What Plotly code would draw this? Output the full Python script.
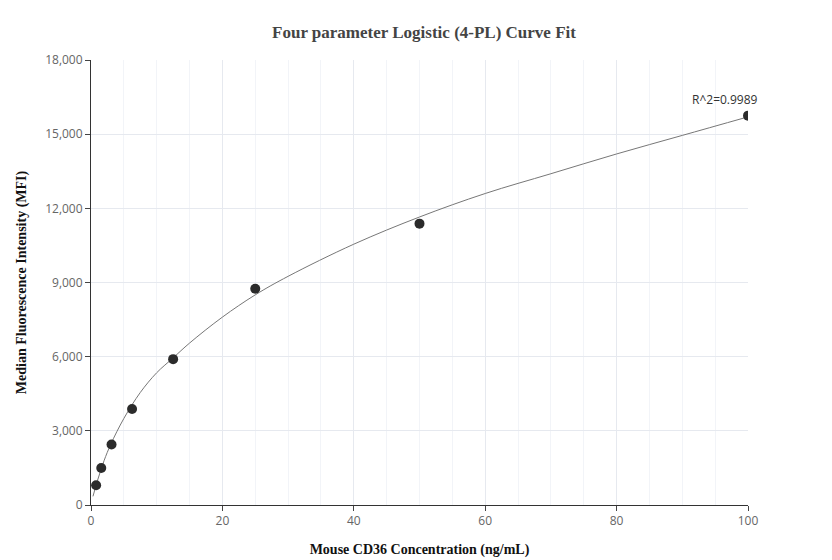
import plotly.graph_objects as go

# measured standards
conc = [0.78, 1.56, 3.125, 6.25, 12.5, 25, 50, 100]
mfi = [800, 1500, 2450, 3880, 5900, 8750, 11380, 15750]

# fitted curve
curve_x = [0.3, 1, 2, 3, 5, 7.5, 10, 12.5, 15, 20, 25, 30, 40, 50, 60, 70, 80, 90, 100]
curve_y = [350, 1000, 1800, 2450, 3500, 4550, 5350, 5950, 6550, 7600, 8500, 9250, 10550, 11650, 12600, 13400, 14200, 14950, 15700]

serif = "Liberation Serif, Times New Roman, serif"

fig = go.Figure()
fig.add_trace(go.Scatter(x=curve_x, y=curve_y, mode="lines", line=dict(color="#777777", width=1, shape="spline"),
                         hoverinfo="skip", showlegend=False))
fig.add_trace(go.Scatter(x=conc, y=mfi, mode="markers", marker=dict(color="#2b2b2b", size=10), showlegend=False))
fig.add_annotation(x=100, y=15750, text="R^2=0.9989", showarrow=False, yshift=16, xanchor="right", xshift=12,
                   font=dict(size=12, color="#333333"))

fig.update_layout(
    width=832, height=560, plot_bgcolor="white", paper_bgcolor="white",
    margin=dict(l=75, r=92, t=52, b=63),
    title=dict(text="<b>Four parameter Logistic (4-PL) Curve Fit</b>", x=0.5, y=0.967,
               font=dict(family=serif, size=17, color="#444444")),
    font=dict(family="Open Sans, sans-serif", size=12, color="#666666"),
)
fig.update_xaxes(range=[0, 100], dtick=20, showline=True, linecolor="#333333", ticks="outside", ticklen=5,
                 gridcolor="#e6e9ef", minor=dict(dtick=5, showgrid=True, gridcolor="#f2f4f8"), zeroline=False,
                 title=dict(text="<b>Mouse CD36 Concentration (ng/mL)</b>", font=dict(family=serif, size=14, color="#111111")))
fig.update_yaxes(range=[0, 18000], dtick=3000, tickformat=",", showline=True, linecolor="#333333", ticks="outside",
                 ticklen=5, gridcolor="#e6e9ef", zeroline=False,
                 title=dict(text="<b>Median Fluorescence Intensity (MFI)</b>", font=dict(family=serif, size=14, color="#111111")))

fig.write_html("out.html")
